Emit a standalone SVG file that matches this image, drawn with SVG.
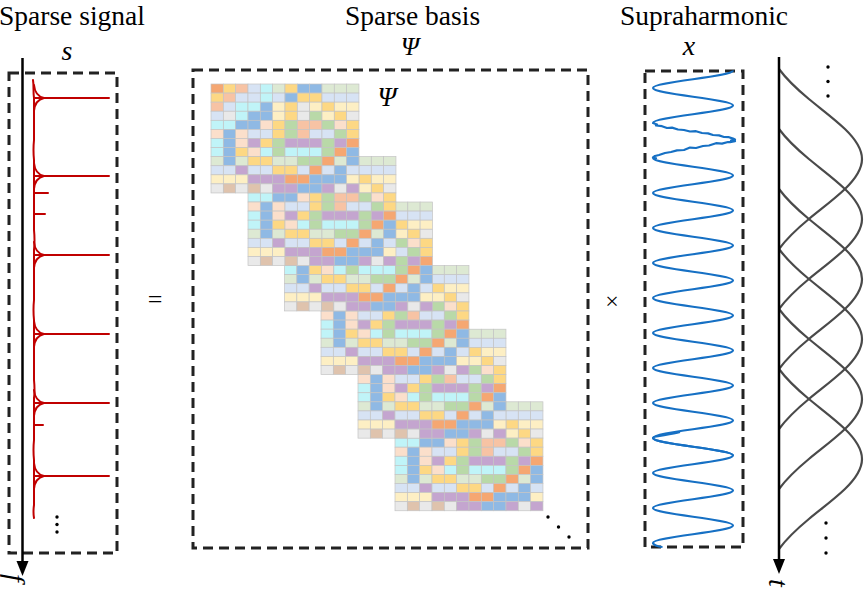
<svg xmlns="http://www.w3.org/2000/svg" xmlns:xlink="http://www.w3.org/1999/xlink" width="865" height="595" viewBox="0 0 865 595">
<style>
.ttl{font-family:"Liberation Serif","Times New Roman",serif;font-size:27.5px;fill:#000}
.sym{font-family:"Liberation Serif","Times New Roman",serif;font-style:italic;fill:#000}
.op{font-family:"Liberation Serif","Times New Roman",serif;fill:#000}
.dash{fill:none;stroke:#222;stroke-width:3;stroke-dasharray:10 6}
.red{fill:none;stroke:#c00000;stroke-width:2;stroke-linecap:round}
.blue{fill:none;stroke:#1670c4;stroke-width:2.2;stroke-linejoin:round}
.gau{fill:none;stroke:#4a4a4a;stroke-width:2.2}
.axis{stroke:#000;stroke-width:2.5}
#blk rect{width:12.33px;height:9.08px;stroke:#c4c4c4;stroke-width:0.7}
.O{fill:#f5a772}.Y{fill:#fdd884}.L{fill:#fdefc4}.P{fill:#fbdfcb}.S{fill:#f7c3a4}
.B{fill:#d7e3f4}.D{fill:#8fb9e4}.C{fill:#c0f4f8}.G{fill:#dde9d3}.N{fill:#b9d9a8}
.U{fill:#c4a5cf}.E{fill:#e9e9e9}.T{fill:#dfc3ad}
</style>
<defs>
<g id="blk">
<g><rect x="0" class="O"/><rect x="12.33" class="Y"/><rect x="24.66" class="S"/><rect x="36.99" class="B"/><rect x="49.32" class="C"/><rect x="61.65" class="G"/><rect x="73.98" class="Y"/><rect x="86.31" class="D"/><rect x="98.64" class="D"/><rect x="110.97" class="G"/><rect x="123.3" class="G"/><rect x="135.63" class="G"/></g>
<g transform="translate(0,9.08)"><rect x="0" class="Y"/><rect x="12.33" class="S"/><rect x="24.66" class="B"/><rect x="36.99" class="B"/><rect x="49.32" class="C"/><rect x="61.65" class="B"/><rect x="73.98" class="D"/><rect x="86.31" class="Y"/><rect x="98.64" class="Y"/><rect x="110.97" class="B"/><rect x="123.3" class="B"/><rect x="135.63" class="B"/></g>
<g transform="translate(0,18.16)"><rect x="0" class="S"/><rect x="12.33" class="B"/><rect x="24.66" class="C"/><rect x="36.99" class="C"/><rect x="49.32" class="D"/><rect x="61.65" class="L"/><rect x="73.98" class="Y"/><rect x="86.31" class="E"/><rect x="98.64" class="L"/><rect x="110.97" class="Y"/><rect x="123.3" class="L"/><rect x="135.63" class="L"/></g>
<g transform="translate(0,27.24)"><rect x="0" class="B"/><rect x="12.33" class="E"/><rect x="24.66" class="C"/><rect x="36.99" class="D"/><rect x="49.32" class="D"/><rect x="61.65" class="L"/><rect x="73.98" class="Y"/><rect x="86.31" class="E"/><rect x="98.64" class="N"/><rect x="110.97" class="L"/><rect x="123.3" class="Y"/><rect x="135.63" class="E"/></g>
<g transform="translate(0,36.32)"><rect x="0" class="C"/><rect x="12.33" class="C"/><rect x="24.66" class="D"/><rect x="36.99" class="D"/><rect x="49.32" class="P"/><rect x="61.65" class="Y"/><rect x="73.98" class="N"/><rect x="86.31" class="S"/><rect x="98.64" class="S"/><rect x="110.97" class="N"/><rect x="123.3" class="P"/><rect x="135.63" class="Y"/></g>
<g transform="translate(0,45.4)"><rect x="0" class="P"/><rect x="12.33" class="D"/><rect x="24.66" class="P"/><rect x="36.99" class="B"/><rect x="49.32" class="B"/><rect x="61.65" class="Y"/><rect x="73.98" class="N"/><rect x="86.31" class="S"/><rect x="98.64" class="B"/><rect x="110.97" class="B"/><rect x="123.3" class="N"/><rect x="135.63" class="Y"/></g>
<g transform="translate(0,54.48)"><rect x="0" class="C"/><rect x="12.33" class="D"/><rect x="24.66" class="P"/><rect x="36.99" class="U"/><rect x="49.32" class="Y"/><rect x="61.65" class="N"/><rect x="73.98" class="U"/><rect x="86.31" class="U"/><rect x="98.64" class="U"/><rect x="110.97" class="N"/><rect x="123.3" class="U"/><rect x="135.63" class="O"/></g>
<g transform="translate(0,63.56)"><rect x="0" class="C"/><rect x="12.33" class="D"/><rect x="24.66" class="Y"/><rect x="36.99" class="P"/><rect x="49.32" class="C"/><rect x="61.65" class="N"/><rect x="73.98" class="C"/><rect x="86.31" class="C"/><rect x="98.64" class="C"/><rect x="110.97" class="N"/><rect x="123.3" class="O"/><rect x="135.63" class="D"/></g>
<g transform="translate(0,72.64)"><rect x="0" class="G"/><rect x="12.33" class="D"/><rect x="24.66" class="G"/><rect x="36.99" class="Y"/><rect x="49.32" class="Y"/><rect x="61.65" class="G"/><rect x="73.98" class="G"/><rect x="86.31" class="N"/><rect x="98.64" class="N"/><rect x="110.97" class="O"/><rect x="123.3" class="G"/><rect x="135.63" class="D"/></g>
<g transform="translate(0,81.72)"><rect x="0" class="B"/><rect x="12.33" class="B"/><rect x="24.66" class="U"/><rect x="36.99" class="B"/><rect x="49.32" class="B"/><rect x="61.65" class="Y"/><rect x="73.98" class="Y"/><rect x="86.31" class="B"/><rect x="98.64" class="O"/><rect x="110.97" class="B"/><rect x="123.3" class="D"/><rect x="135.63" class="B"/></g>
<g transform="translate(0,90.8)"><rect x="0" class="L"/><rect x="12.33" class="L"/><rect x="24.66" class="L"/><rect x="36.99" class="U"/><rect x="49.32" class="U"/><rect x="61.65" class="U"/><rect x="73.98" class="O"/><rect x="86.31" class="O"/><rect x="98.64" class="D"/><rect x="110.97" class="D"/><rect x="123.3" class="D"/><rect x="135.63" class="L"/></g>
<g transform="translate(0,99.88)"><rect x="0" class="E"/><rect x="12.33" class="T"/><rect x="24.66" class="E"/><rect x="36.99" class="T"/><rect x="49.32" class="E"/><rect x="61.65" class="U"/><rect x="73.98" class="U"/><rect x="86.31" class="D"/><rect x="98.64" class="D"/><rect x="110.97" class="U"/><rect x="123.3" class="E"/><rect x="135.63" class="U"/></g>
</g>
<path id="spk" d="M34,-13 Q35,-2 44,0 M34,13 Q35,2 44,0 M34,0 H109"/>
<path id="gauss" d="M0,-90 C7.37,-80 17.8,-70 29.89,-60 C41.98,-50 55.58,-40 65.95,-30 C76.33,-20 83,-10 83,0 C83,10 76.33,20 65.95,30 C55.58,40 41.98,50 29.89,60 C17.8,70 7.37,80 0,90"/>
</defs>

<g id="titles">
<text class="ttl" x="-1" y="24.5">Sparse signal</text>
<text class="ttl" x="412.5" y="24.5" text-anchor="middle">Sparse basis</text>
<text class="ttl" x="788" y="24.5" text-anchor="end">Supraharmonic</text>
</g>

<g id="sparse-signal">
<text class="sym" x="67" y="60" font-size="28" text-anchor="middle">s</text>
<rect class="dash" x="9" y="73" width="108" height="480"/>
<path class="red" d="M33,80 C34,86 33,92 34,98 L34,140 Q33,150 34,160 L34,230 Q35,240 34,250 L34,300 Q33,310 34,320 L34,380 Q35,390 34,398 L34,440 Q33,450 34,460 L34,505 Q33,512 34,518"/>
<g class="red">
<use xlink:href="#spk" y="98"/>
<use xlink:href="#spk" y="176"/>
<use xlink:href="#spk" y="255"/>
<use xlink:href="#spk" y="334"/>
<use xlink:href="#spk" y="403"/>
<use xlink:href="#spk" y="476"/>
<path d="M34,193 H48 M34,214 H45 M34,425 H43"/>
</g>
<g fill="#000"><circle cx="57" cy="517" r="1.7"/><circle cx="57" cy="524.5" r="1.7"/><circle cx="57" cy="532" r="1.7"/></g>
</g>

<g id="sparse-basis">
<text class="sym" x="410" y="55" font-size="26" text-anchor="middle">Ψ</text>
<rect class="dash" x="193" y="70" width="395" height="478"/>
<use xlink:href="#blk" x="395" y="401.8"/>
<use xlink:href="#blk" x="358" y="329.2"/>
<use xlink:href="#blk" x="321" y="265.6"/>
<use xlink:href="#blk" x="284.5" y="202"/>
<use xlink:href="#blk" x="248" y="156.6"/>
<use xlink:href="#blk" x="211" y="84"/>
<text class="sym" x="387" y="106" font-size="27" text-anchor="middle">Ψ</text>
<g fill="#000"><circle cx="548" cy="517" r="1.7"/><circle cx="558.5" cy="527" r="1.7"/><circle cx="569" cy="537" r="1.7"/></g>
</g>

<g id="operators">
<text class="op" x="155" y="308" font-size="26" text-anchor="middle">=</text>
<text class="op" x="612" y="309" font-size="24" text-anchor="middle">×</text>
</g>

<g id="supraharmonic">
<text class="sym" x="689" y="55" font-size="28" text-anchor="middle">x</text>
<rect class="dash" x="645" y="71" width="98" height="476"/>
<path class="blue" d="M733,70.5 c0,6.36 -80,11.14 -80,17.5 s80,11.14 80,17.5 s-80,11.14 -80,17.5
L657,124.5 656,125.5 662,126.2 667,128 672,127.6 678,129.5 684,130 690,131.5 696,131.2 702,133 708,133.4 713,135 719,135.4 724,137 729,137.2 733,138.6 735,139.6 731,140.5 735,141.2 730,142.2 728,142 722,143.6 716,143.2 709,145.5 703,146 696,148 690,147.6 684,150 677,150.4 671,152 665,153 659,155 655,156 653,157.5 656,158.4 653,158
c0,6.36 80,11.14 80,17.5 s-80,11.14 -80,17.5 s80,11.14 80,17.5 s-80,11.14 -80,17.5 s80,11.14 80,17.5 s-80,11.14 -80,17.5 s80,11.14 80,17.5 s-80,11.14 -80,17.5 s80,11.14 80,17.5 s-80,11.14 -80,17.5 s80,11.14 80,17.5 s-80,11.14 -80,17.5 s80,11.14 80,17.5 s-80,11.14 -80,17.5 s80,11.14 80,17.5 s-80,11.14 -80,17.5 s80,11.14 80,17.5 s-80,11.14 -80,17.5 s80,11.14 80,17.5 s-80,11.14 -80,17.5 s80,11.14 80,17.5 s-80,11.14 -80,17.5
c0,1.6 4.5,3.6 9.5,4"/>
<path class="blue" stroke-width="3.6" d="M680,432 C670,435 653,436 653,438 c0,6.36 80,11.14 80,17.5"/>
</g>

<g id="gaussian-atoms">
<g class="gau">
<use xlink:href="#gauss" transform="translate(779,159)"/>
<use xlink:href="#gauss" transform="translate(779,219)"/>
<use xlink:href="#gauss" transform="translate(779,279)"/>
<use xlink:href="#gauss" transform="translate(779,339)"/>
<use xlink:href="#gauss" transform="translate(779,399)"/>
<use xlink:href="#gauss" transform="translate(779,459)"/>
</g>
<g fill="#000"><circle cx="828" cy="67" r="1.7"/><circle cx="828" cy="81.5" r="1.7"/><circle cx="828" cy="96" r="1.7"/><circle cx="826" cy="523" r="1.7"/><circle cx="826" cy="538" r="1.7"/><circle cx="826" cy="553" r="1.7"/></g>
</g>

<g id="connectors">
<line class="axis" x1="22.5" y1="58" x2="22.5" y2="564"/>
<polygon points="16.5,561 28.5,561 22.5,576" fill="#000"/>
<line class="axis" x1="779" y1="57" x2="779" y2="562"/>
<polygon points="773,559 785,559 779,574" fill="#000"/>
</g>

<g id="axis-labels">
<text class="sym" font-size="28" transform="translate(6,574) rotate(90)">f</text>
<text class="sym" font-size="28" transform="translate(769,579) rotate(90)">t</text>
</g>
</svg>
